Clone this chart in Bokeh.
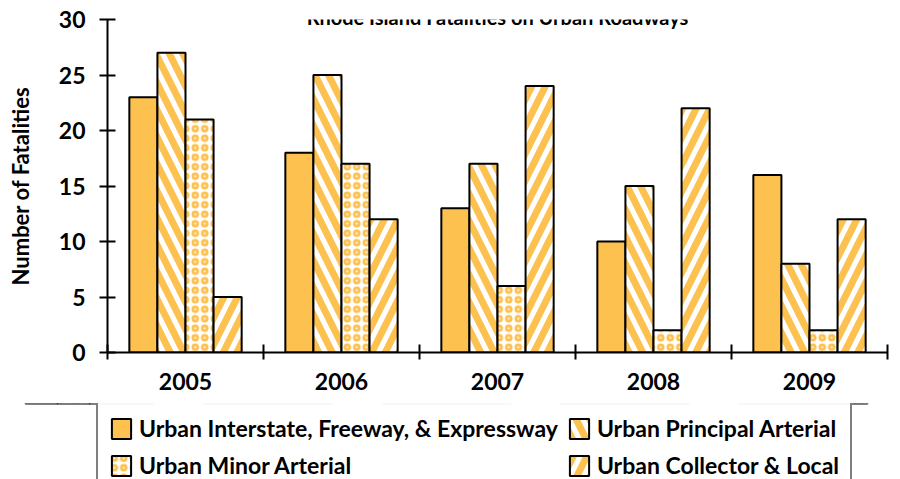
from bokeh.plotting import figure
from bokeh.layouts import column
from bokeh.models import Range1d, FixedTicker, Legend, LegendItem, Label, ColumnDataSource
from bokeh.transform import dodge
from bokeh.embed import file_html
from bokeh.resources import INLINE

title = "Rhode Island Fatalities on Urban Roadways"
years = ["2005", "2006", "2007", "2008", "2009"]
interstate = [23, 18, 13, 10, 16]
principal = [27, 25, 17, 15, 8]
minor = [21, 17, 6, 2, 2]
collector = [5, 12, 24, 22, 12]
series_names = ["Urban Interstate, Freeway, & Expressway", "Urban Principal Arterial",
                "Urban Minor Arterial", "Urban Collector & Local"]
y_ticks = [0, 5, 10, 15, 20, 25, 30]

ORANGE = "#FDC150"
FONT = "Lato"

pos = [i + 0.5 for i in range(len(years))]
source = ColumnDataSource(dict(x=pos, year=years, interstate=interstate,
                               principal=principal, minor=minor, collector=collector))

styles = [
    dict(fill_color=ORANGE),
    dict(fill_color="white", hatch_pattern="left_diagonal_line", hatch_color=ORANGE,
         hatch_weight=7, hatch_scale=27),
    dict(fill_color="white", hatch_pattern="ring", hatch_color=ORANGE,
         hatch_weight=2.8, hatch_scale=9.5),
    dict(fill_color="white", hatch_pattern="right_diagonal_line", hatch_color=ORANGE,
         hatch_weight=7, hatch_scale=27),
]
fields = ["interstate", "principal", "minor", "collector"]
offsets = [-0.27, -0.09, 0.09, 0.27]

p = figure(width=892, height=403, x_range=Range1d(0, len(years)), y_range=Range1d(0, 30),
           output_backend="svg", toolbar_location=None,
           min_border_left=107, min_border_right=5, min_border_top=19, min_border_bottom=51)
p.outline_line_color = None
p.grid.visible = False
p.background_fill_color = "white"

for f, off, st in zip(fields, offsets, styles):
    p.vbar(x=dodge("x", off), top=f, width=0.18, source=source,
           line_color="black", line_width=2, **st)

# y axis
yax = p.yaxis[0]
yax.ticker = FixedTicker(ticks=y_ticks)
yax.major_tick_in = 8
yax.major_tick_out = 8
yax.minor_tick_line_color = None
yax.axis_line_width = 2
yax.major_tick_line_width = 2
yax.major_label_text_font = FONT
yax.major_label_text_font_style = "bold"
yax.major_label_text_font_size = "23px"
yax.major_label_text_color = "black"
yax.major_label_standoff = 14
yax.axis_label = "Number of Fatalities"
yax.axis_label_text_font = FONT
yax.axis_label_text_font_style = "bold"
yax.axis_label_text_font_size = "22px"
yax.axis_label_text_color = "black"
yax.axis_label_standoff = 22

# x axis
xax = p.xaxis[0]
xax.ticker = FixedTicker(ticks=pos, minor_ticks=list(range(len(years) + 1)))
xax.major_label_overrides = {pv: y for pv, y in zip(pos, years)}
xax.major_tick_line_color = None
xax.minor_tick_in = 8
xax.minor_tick_out = 7
xax.minor_tick_line_width = 2
xax.axis_line_width = 2
xax.major_label_text_font = FONT
xax.major_label_text_font_style = "bold"
xax.major_label_text_font_size = "23px"
xax.major_label_text_color = "black"
xax.major_label_standoff = 13

p.add_layout(Label(x=len(years) / 2, y=30.27, text=title, text_align="center",
                   text_baseline="alphabetic", text_font=FONT, text_font_style="bold",
                   text_font_size="20px", text_color="black"))

# legend strip (its bars sit outside its visible y range; only the legend shows)
lg = figure(width=892, height=76, x_range=Range1d(0, len(years)), y_range=Range1d(-20, -10),
            output_backend="svg", toolbar_location=None, x_axis_type=None, y_axis_type=None,
            min_border=0)
if "frame_align" in lg.properties():
    lg.frame_align = False
lg.outline_line_color = None
lg.grid.visible = False
items = []
for name, f, off, st in zip(series_names, fields, offsets, styles):
    r = lg.vbar(x=dodge("x", off), top=f, width=0.18, source=source,
                line_color="black", line_width=2, **st)
    items.append(LegendItem(label=name, renderers=[r]))

legend = Legend(items=items, location=(96, -13), orientation="horizontal", ncols=2,
                border_line_color="black", border_line_width=2,
                label_text_font=FONT, label_text_font_style="bold",
                label_text_font_size="23px", label_text_color="black",
                glyph_width=24, glyph_height=25,
                spacing=9, label_standoff=6, padding=11, margin=0)
lg.add_layout(legend)

layout = column(p, lg, spacing=0)
open("out.html", "w").write(file_html(layout, INLINE))
